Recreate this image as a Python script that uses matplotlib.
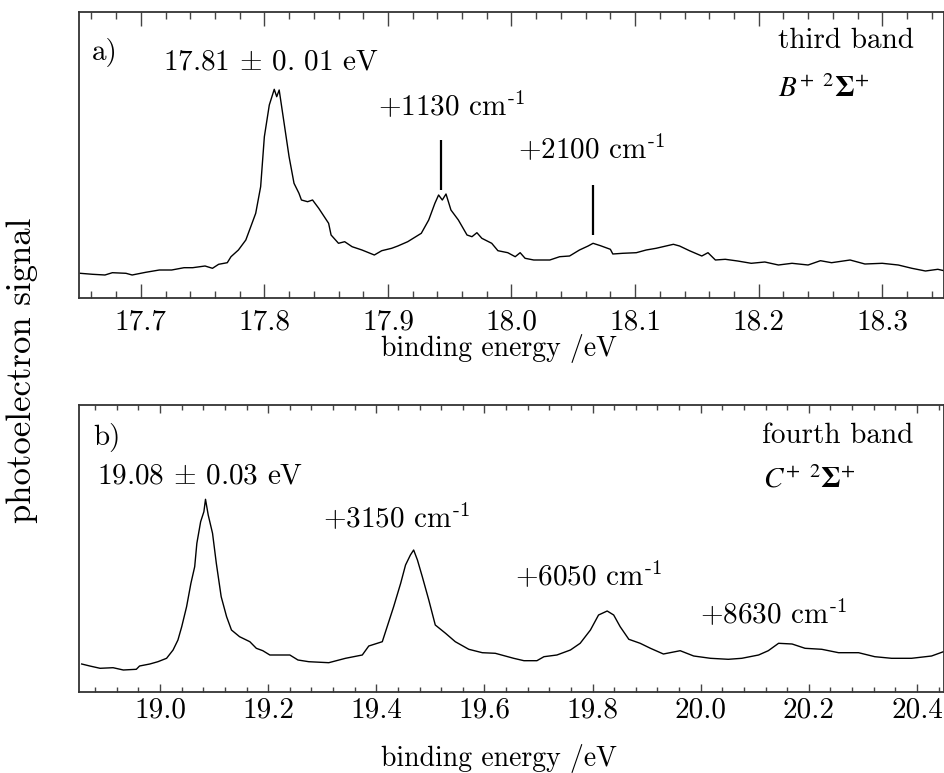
import matplotlib
matplotlib.use("Agg")
import matplotlib.pyplot as plt
from matplotlib.ticker import MultipleLocator, NullLocator

plt.rcParams['font.family'] = 'serif'
plt.rcParams['font.serif'] = ['cmr10']
plt.rcParams['mathtext.fontset'] = 'cm'
plt.rcParams['axes.formatter.use_mathtext'] = True

# ---------------- data: third band (panel a) ----------------
energy_a = [17.651, 17.661, 17.671, 17.677, 17.688, 17.693, 17.704, 17.715, 17.725, 17.735,
            17.742, 17.752, 17.758, 17.763, 17.770, 17.773, 17.779, 17.785, 17.789, 17.793,
            17.797, 17.800, 17.804, 17.808, 17.810, 17.812, 17.816, 17.820, 17.824, 17.828,
            17.830, 17.835, 17.839, 17.844, 17.852, 17.854, 17.860, 17.865, 17.871, 17.879,
            17.889, 17.895, 17.903, 17.908, 17.916, 17.927, 17.933, 17.938, 17.941, 17.944,
            17.947, 17.951, 17.957, 17.964, 17.968, 17.972, 17.976, 17.984, 17.989, 17.997,
            18.003, 18.007, 18.011, 18.018, 18.031, 18.039, 18.047, 18.055, 18.062, 18.066,
            18.072, 18.080, 18.082, 18.090, 18.101, 18.109, 18.117, 18.131, 18.136, 18.144,
            18.154, 18.159, 18.165, 18.173, 18.183, 18.194, 18.205, 18.216, 18.227, 18.240,
            18.250, 18.259, 18.274, 18.286, 18.300, 18.313, 18.324, 18.335, 18.345, 18.350]
signal_a = [24.7, 23.7, 23.0, 25.3, 24.7, 23.0, 25.7, 28.0, 28.0, 30.3,
            30.3, 32.0, 29.7, 33.7, 35.3, 41.3, 48.0, 58.0, 71.3, 84.7,
            111.3, 161.3, 193.0, 208.7, 201.3, 208.0, 174.7, 141.3, 114.7, 104.7,
            98.0, 96.3, 98.0, 89.7, 74.7, 63.0, 54.7, 56.3, 51.3, 48.0,
            43.0, 47.3, 49.7, 52.0, 56.3, 64.7, 78.0, 94.7, 103.0, 98.0,
            104.0, 88.0, 78.0, 63.0, 61.3, 65.3, 59.7, 54.7, 47.3, 45.3,
            41.3, 45.3, 39.7, 38.0, 38.0, 41.3, 42.0, 48.0, 52.0, 54.7,
            52.3, 48.7, 44.0, 44.7, 45.3, 48.0, 49.7, 53.7, 52.0, 47.3,
            42.0, 45.3, 38.0, 38.7, 37.0, 34.7, 36.0, 33.0, 34.7, 33.0,
            37.3, 35.3, 38.0, 34.0, 34.7, 33.0, 29.7, 27.0, 28.7, 27.3]

# ---------------- data: fourth band (panel b) ----------------
energy_b = [18.855, 18.870, 18.889, 18.913, 18.932, 18.956, 18.962, 18.981, 18.996, 19.012,
            19.024, 19.033, 19.040, 19.049, 19.057, 19.064, 19.068, 19.075, 19.081, 19.084,
            19.089, 19.097, 19.104, 19.113, 19.123, 19.132, 19.147, 19.166, 19.178, 19.190,
            19.203, 19.221, 19.240, 19.255, 19.275, 19.312, 19.343, 19.374, 19.386, 19.411,
            19.420, 19.432, 19.445, 19.454, 19.463, 19.469, 19.476, 19.485, 19.497, 19.509,
            19.528, 19.546, 19.571, 19.596, 19.620, 19.654, 19.673, 19.697, 19.710, 19.734,
            19.759, 19.777, 19.796, 19.811, 19.827, 19.839, 19.851, 19.867, 19.888, 19.907,
            19.931, 19.962, 19.987, 20.018, 20.051, 20.076, 20.107, 20.125, 20.144, 20.169,
            20.193, 20.224, 20.255, 20.292, 20.322, 20.353, 20.390, 20.427, 20.449]
signal_b = [28.0, 26.0, 23.7, 24.3, 22.0, 22.7, 26.0, 28.0, 30.3, 33.7,
            42.0, 52.0, 65.3, 85.3, 108.7, 125.3, 148.7, 170.3, 180.3, 192.7,
            177.0, 158.7, 128.7, 95.3, 75.3, 62.0, 55.3, 50.3, 43.7, 41.3,
            37.0, 37.0, 37.0, 32.0, 30.3, 29.3, 33.7, 37.0, 46.0, 50.3,
            65.3, 85.3, 108.7, 127.0, 137.0, 142.0, 132.0, 115.3, 92.0, 67.0,
            58.7, 50.3, 42.7, 39.3, 38.7, 33.7, 31.3, 31.3, 35.3, 37.0,
            42.0, 48.7, 62.0, 77.0, 81.0, 77.0, 65.3, 52.7, 48.7, 43.7,
            38.0, 41.3, 36.0, 33.7, 32.7, 33.7, 37.0, 41.3, 48.7, 48.0,
            43.7, 42.7, 39.3, 39.3, 35.3, 33.7, 33.7, 36.0, 40.3]

# marker lines in panel a (energy, signal from, signal to)
marker_a_energy = [17.9426, 18.066]
marker_a_low = [108, 63]
marker_a_high = [158, 113]

W, H = 945, 773
fig = plt.figure(figsize=(W / 100, H / 100), dpi=100)


def px_axes(l, t, r, b):
    return fig.add_axes([l / W, 1 - b / H, (r - l) / W, (b - t) / H])


axa = px_axes(79, 12, 944, 298)
axb = px_axes(79, 405, 944, 692)

axa.plot(energy_a, signal_a, color='black', lw=1.0)
axa.vlines(marker_a_energy, marker_a_low, marker_a_high, color='black', lw=1.6)
axb.plot(energy_b, signal_b, color='black', lw=1.0)

axa.set_xlim(17.65, 18.35)
axa.set_ylim(0, 286)
axb.set_xlim(18.85, 20.45)
axb.set_ylim(0, 287)

for ax, maj, mino, lmaj, lmin in [(axa, 0.1, 0.02, 10, 5), (axb, 0.2, 0.04, 6, 3.6)]:
    ax.xaxis.set_major_locator(MultipleLocator(maj))
    ax.xaxis.set_minor_locator(MultipleLocator(mino))
    ax.yaxis.set_major_locator(NullLocator())
    ax.tick_params(axis='x', which='both', direction='in', top=True, bottom=True,
                   labelsize=21, width=1.0, color='#444444')
    ax.tick_params(axis='x', which='major', length=lmaj)
    ax.tick_params(axis='x', which='minor', length=lmin)
    for s in ax.spines.values():
        s.set_linewidth(1.3)
        s.set_color('#333333')

axa.xaxis.set_major_formatter(plt.FuncFormatter(lambda v, p: f"{v:.1f}"))
axb.xaxis.set_major_formatter(plt.FuncFormatter(lambda v, p: f"{v:.1f}"))
axa.tick_params(axis='x', which='major', pad=8)
axb.tick_params(axis='x', which='major', pad=4)


def ftext(x, y, s, size=21, **kw):
    fig.text(x / W, 1 - y / H, s, ha='left', va='baseline', fontsize=size, **kw)


ftext(92, 60, 'a)')
ftext(163, 70, r'17.81 $\pm$ 0. 01 eV')
ftext(378, 115, r'+1130 cm$^{\text{-}1}$')
ftext(518, 158, r'+2100 cm$^{\text{-}1}$')
ftext(778, 48, 'third band')
ftext(778, 97, r'$B^{+\ \ 2}\mathbf{\Sigma}^{+}$', math_fontfamily='stix')

ftext(93, 445, 'b)')
ftext(97, 483, r'19.08 $\pm$ 0.03 eV')
ftext(323, 527, r'+3150 cm$^{\text{-}1}$')
ftext(515, 585, r'+6050 cm$^{\text{-}1}$')
ftext(700, 623, r'+8630 cm$^{\text{-}1}$')
ftext(762, 443, 'fourth band')
ftext(763, 488, r'$C^{+\ \ 2}\mathbf{\Sigma}^{+}$', math_fontfamily='stix')

fig.text(499 / W, 1 - 356 / H, 'binding energy /eV', ha='center', va='baseline', fontsize=20)
fig.text(499 / W, 1 - 766 / H, 'binding energy /eV', ha='center', va='baseline', fontsize=20)
fig.text(22 / W, 1 - 370 / H, 'photoelectron signal', ha='center', va='center',
         rotation=90, fontsize=25)

fig.savefig('out.png', dpi=100)
